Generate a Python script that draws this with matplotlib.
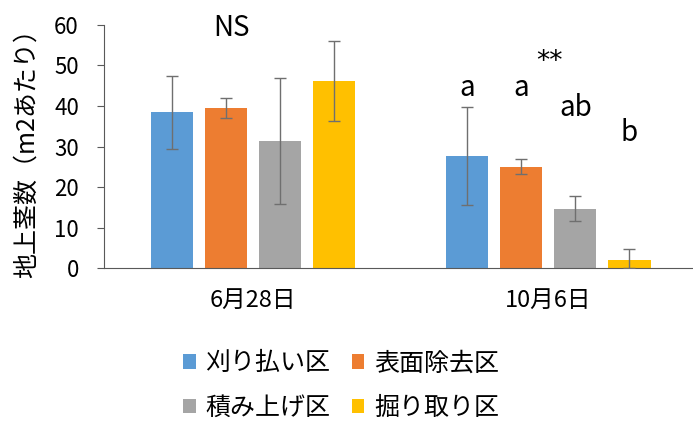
import numpy as np
import matplotlib.pyplot as plt

plt.rcParams['font.family'] = ['Noto Sans CJK JP', 'DejaVu Sans']

dates = ['6月28日', '10月6日']
plots = ['刈り払い区', '表面除去区', '積み上げ区', '掘り取り区']
colors = ['#5b9bd5', '#ed7d31', '#a5a5a5', '#ffc000']

# mean and error per plot, [6/28, 10/6]
means = [[38.5, 27.7], [39.5, 25.0], [31.4, 14.6], [46.2, 2.0]]
err_up = [[9.0, 12.1], [2.5, 2.0], [15.6, 3.2], [9.8, 2.7]]
err_lo = [[9.0, 12.1], [2.5, 1.8], [15.6, 3.0], [10.0, 2.0]]

letters = ['a', 'a', 'ab', 'b']
letter_y = [44.4, 44.4, 39.5, 33.3]

fig = plt.figure(figsize=(6.93, 4.23), dpi=100)
ax = fig.add_axes([0.150, 0.366, 0.85, 0.575])

x = np.arange(len(dates))
slot = 0.183
w = 0.143
bars = []
for i, p in enumerate(plots):
    xs = x + (i - 1.5) * slot
    b = ax.bar(xs, means[i], width=w, color=colors[i], label=p, zorder=2)
    bars.append(b)
    ax.errorbar(xs, means[i], yerr=[err_lo[i], err_up[i]], fmt='none',
                ecolor='#6f6f6f', elinewidth=1, capsize=4.5, capthick=1, zorder=3)

ax.text(x[0] - 0.073, 59.3, 'NS', ha='center', va='center', fontsize=20)
ax.text(x[1] + 0.003, 50.8, '**', ha='center', va='center', fontsize=19,
        family='DejaVu Sans')
for i, t in enumerate(letters):
    ax.text(x[1] + (i - 1.5) * slot, letter_y[i], t, ha='center', va='center',
            fontsize=20)

ax.set_ylim(0, 60)
ax.set_yticks(range(0, 61, 10))
ax.set_xlim(-0.506, 1.49)
ax.set_xticks(x)
ax.set_xticklabels(dates, fontsize=17)
ax.tick_params(axis='x', length=0, pad=15)
ax.tick_params(axis='y', labelsize=16, length=5, color='#595959', pad=13)
for s in ['top', 'right']:
    ax.spines[s].set_visible(False)
for s in ['left', 'bottom']:
    ax.spines[s].set_color('#595959')
ax.set_ylabel('地上茎数（m2あたり）', fontsize=18, labelpad=10)

# legend rows: blue/orange, gray/yellow (column-major fill)
order = [0, 2, 1, 3]
fig.legend([bars[k] for k in order], [plots[k] for k in order], ncol=2,
           loc='center left', bbox_to_anchor=(183 / 693, 0.088), frameon=False,
           fontsize=18, handlelength=0.5, handleheight=0.5, handletextpad=0.4,
           columnspacing=0.85, labelspacing=0.75, borderpad=0, borderaxespad=0)

fig.savefig('out.png', dpi=100)
